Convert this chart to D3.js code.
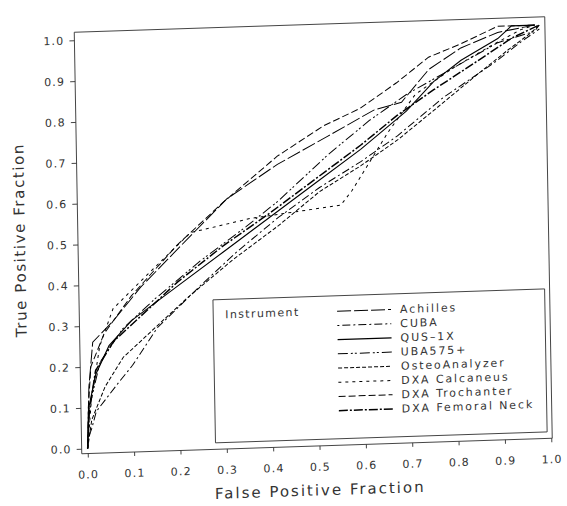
<!DOCTYPE html>
<html><head><meta charset="utf-8">
<script src="https://cdn.jsdelivr.net/npm/d3@7"></script>
<style>body{margin:0;background:#fff}svg{display:block}</style>
</head><body><svg id="c" width="567" height="506"></svg>
<script>
// ---- data ----
const xTicks = [0,0.1,0.2,0.3,0.4,0.5,0.6,0.7,0.8,0.9,1.0];
const yTicks = [0,0.1,0.2,0.3,0.4,0.5,0.6,0.7,0.8,0.9,1.0];
const xTitle = "False Positive Fraction";
const yTitle = "True Positive Fraction";
const legendTitle = "Instrument";
const seriesNames = ["Achilles","CUBA","QUS\u20131X","UBA575+","OsteoAnalyzer","DXA Calcaneus","DXA Trochanter","DXA Femoral Neck"];
// [FPF, TPF]
const achilles = [[0,0],[0.005,0.15],[0.015,0.26],[0.06,0.31],[0.12,0.39],[0.21,0.49],[0.31,0.6],[0.42,0.68],[0.53,0.745],[0.63,0.805],[0.69,0.822],[0.75,0.9],[0.82,0.95],[0.9,0.985],[0.98,1.0]];
const cuba = [[0,0.02],[0.01,0.05],[0.02,0.09],[0.07,0.16],[0.1,0.2],[0.155,0.29],[0.25,0.39],[0.33,0.47],[0.42,0.55],[0.51,0.62],[0.6,0.68],[0.68,0.74],[0.78,0.83],[0.89,0.91],[0.95,0.96],[0.99,0.99]];
const qus1x = [[0,0],[0.004,0.1],[0.02,0.18],[0.05,0.25],[0.1,0.31],[0.2,0.39],[0.3,0.47],[0.4,0.55],[0.5,0.63],[0.6,0.71],[0.7,0.8],[0.76,0.87],[0.82,0.92],[0.9,0.97],[0.93,1.0],[0.98,1.0]];
const uba575 = [[0,0],[0.005,0.1],[0.03,0.21],[0.08,0.29],[0.15,0.36],[0.25,0.45],[0.35,0.53],[0.42,0.59],[0.53,0.7],[0.62,0.78],[0.7,0.84],[0.8,0.9],[0.9,0.96],[0.98,0.985],[0.99,1]];
const osteo = [[0,0],[0.01,0.07],[0.04,0.15],[0.08,0.22],[0.14,0.28],[0.22,0.36],[0.32,0.45],[0.42,0.53],[0.51,0.61],[0.6,0.67],[0.68,0.73],[0.76,0.8],[0.85,0.88],[0.92,0.94],[0.97,0.98],[0.99,1]];
const dxaCalc = [[0,0],[0.01,0.12],[0.03,0.25],[0.06,0.34],[0.13,0.415],[0.23,0.52],[0.36,0.55],[0.555,0.575],[0.58,0.61],[0.66,0.75],[0.72,0.84],[0.8,0.9],[0.88,0.95],[0.95,0.99],[0.98,1.0]];
const dxaTroch = [[0,0],[0.003,0.1],[0.01,0.2],[0.04,0.28],[0.1,0.37],[0.2,0.49],[0.3,0.59],[0.42,0.7],[0.52,0.77],[0.6,0.81],[0.68,0.87],[0.75,0.93],[0.82,0.96],[0.9,1.0],[0.98,1.0]];
const dxaNeck = [[0,0],[0.005,0.09],[0.02,0.19],[0.06,0.26],[0.1,0.3],[0.2,0.4],[0.3,0.485],[0.4,0.56],[0.5,0.64],[0.6,0.72],[0.68,0.79],[0.76,0.85],[0.86,0.92],[0.93,0.97],[0.97,0.99],[0.99,1]];
const seriesValues = [achilles, cuba, qus1x, uba575, osteo, dxaCalc, dxaTroch, dxaNeck];

// ---- styles ----
const dashStyles = ["14,3","2,3,8,3",null,"10,3,2,2,2,3","4,2","3,4","7,3","9,2,2,2"];
const widthStyles = [1,1,1.1,1,1,1,1,1.5];
const font = "DejaVu Sans, Liberation Sans, sans-serif";
const ink = "#333";

// ---- layout (frame in local coords, skewed like the scanned original) ----
const W = 471, H = 421.5;
const svg = d3.select("#c");
const g = svg.append("g")
  .attr("transform", `matrix(${470.5/W},${-15.5/W},${7.5/H},${421.5/H},74.25,32.25)`);

const x = d3.scaleLinear().domain([0,1]).range([6, 470]);
const y = d3.scaleLinear().domain([0,1]).range([416.5, 8]);

// frame
g.append("rect").attr("x",0).attr("y",0).attr("width",W).attr("height",H)
  .attr("fill","none").attr("stroke","#333").attr("stroke-width",0.9);

// axes
const fmt = d3.format(".1f");
const yAxis = g.append("g").call(d3.axisLeft(y).tickValues(yTicks).tickFormat(fmt).tickSize(5).tickPadding(5));
const xAxis = g.append("g").attr("transform",`translate(0,${H})`)
  .call(d3.axisBottom(x).tickValues(xTicks).tickFormat(fmt).tickSize(4).tickPadding(13));
[yAxis, xAxis].forEach(a => {
  a.select(".domain").remove();
  a.selectAll("line").attr("stroke","#333").attr("stroke-width",0.9);
  a.selectAll("text").attr("font-family",font).attr("font-size",11)
    .attr("letter-spacing",1.2).attr("fill",ink);
});

// axis titles
g.append("text").attr("x",238).attr("y",471).attr("text-anchor","middle")
  .attr("font-family",font).attr("font-size",15).attr("letter-spacing",2)
  .attr("fill",ink).text(xTitle);
g.append("text").attr("transform","translate(-53,206) rotate(-90)").attr("text-anchor","middle")
  .attr("font-family",font).attr("font-size",15).attr("letter-spacing",1.6)
  .attr("fill",ink).text(yTitle);

// curves
const line = d3.line().x(d => x(d[0])).y(d => y(d[1]));
g.append("g").selectAll("path").data(seriesValues).join("path")
  .attr("d", line).attr("fill","none").attr("stroke","#000")
  .attr("stroke-width",(d,i)=>widthStyles[i])
  .attr("stroke-dasharray",(d,i)=>dashStyles[i]);

// legend
const lg = g.append("g");
lg.append("rect").attr("x",134).attr("y",272).attr("width",332).attr("height",143)
  .attr("fill","#fff").attr("stroke","#333").attr("stroke-width",0.9);
lg.append("text").attr("x",146).attr("y",287).attr("dy","0.35em")
  .attr("font-family",font).attr("font-size",11).attr("letter-spacing",1.4)
  .attr("fill",ink).text(legendTitle);
const rowY = i => 287.5 + i*14.2;
seriesNames.forEach((name,i) => {
  lg.append("line").attr("x1",258).attr("x2",312).attr("y1",rowY(i)).attr("y2",rowY(i))
    .attr("stroke","#000").attr("stroke-width",widthStyles[i])
    .attr("stroke-dasharray",dashStyles[i]);
  lg.append("text").attr("x",321).attr("y",rowY(i)).attr("dy","0.35em")
    .attr("font-family",font).attr("font-size",11).attr("letter-spacing",1.9)
    .attr("fill",ink).text(name);
});
</script></body></html>
